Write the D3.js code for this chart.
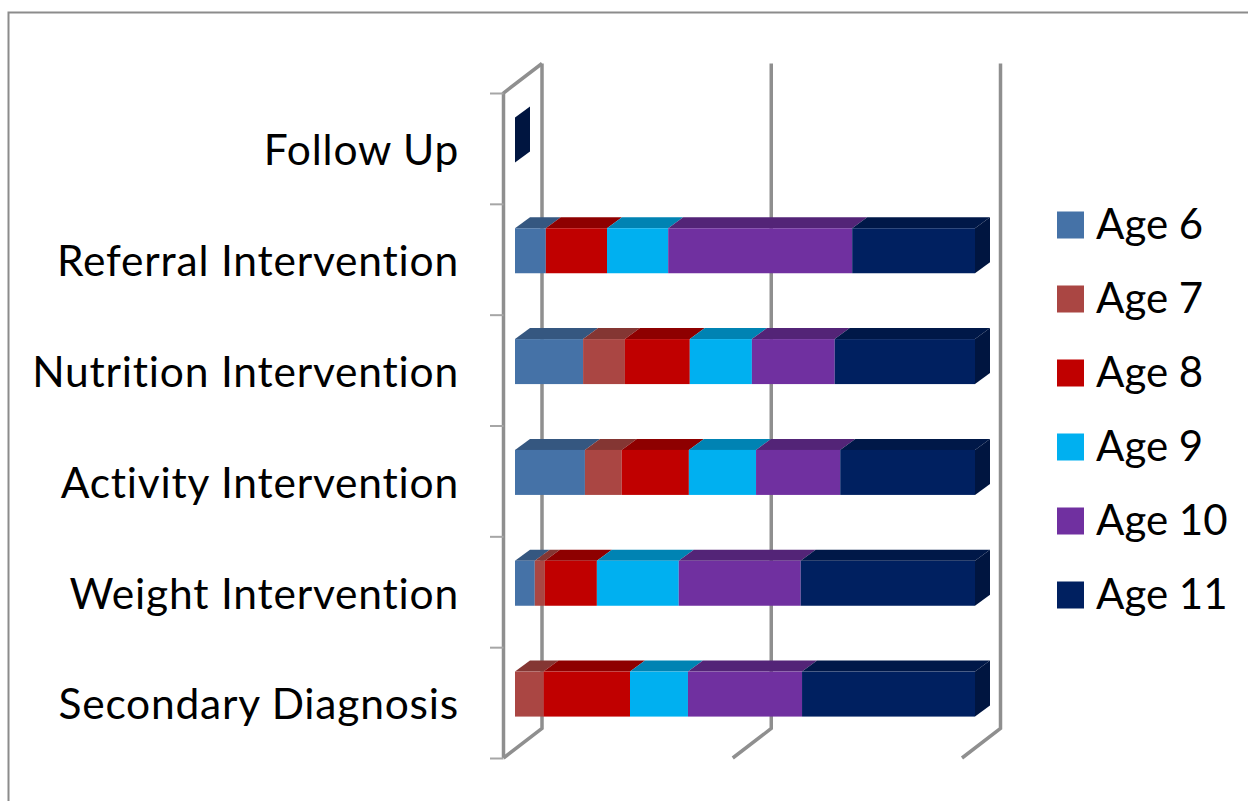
<!DOCTYPE html>
<html>
<head>
<meta charset="utf-8">
<script src="https://cdn.jsdelivr.net/npm/d3@7"></script>
<style>
  html, body { margin: 0; padding: 0; background: #fff; }
  svg { display: block; }
  text { font-family: Lato, "Open Sans", sans-serif; fill: #000; }
</style>
</head>
<body>
<svg id="chart" width="1248" height="801"></svg>
<script>
// Categories from top to bottom of the chart
const categories = ["Follow Up", "Referral Intervention", "Nutrition Intervention",
                    "Activity Intervention", "Weight Intervention", "Secondary Diagnosis"];
const seriesNames = ["Age 6", "Age 7", "Age 8", "Age 9", "Age 10", "Age 11"];

// Share of each category per age group, in percent
const age6  = [0, 6.7, 14.8, 15.2, 4.3, 0];
const age7  = [0, 0, 9.1, 8.0, 2.2, 6.2];
const age8  = [0, 13.3, 14.1, 14.6, 11.3, 18.8];
const age9  = [0, 13.3, 13.5, 14.6, 17.8, 12.6];
const age10 = [0, 40.0, 18.0, 18.3, 26.5, 24.8];
const age11 = [0, 26.7, 30.5, 29.3, 37.9, 37.6];
const seriesValues = [age6, age7, age8, age9, age10, age11];

const valueTicks = [0, 50, 100];

const frontColors = ["#4572A7", "#AA4643", "#C00000", "#00B0F0", "#7030A0", "#002060"];
const topColors   = ["#355780", "#843633", "#8E0000", "#0083B3", "#532477", "#001848"];
const sideColor   = "#001540";

const svg = d3.select("#chart");

// Outer chart border: only the top and left edges fall inside the page
svg.append("path")
  .attr("d", "M8.5,801V12.5H1248")
  .attr("fill", "none").attr("stroke", "#8c8c8c").attr("stroke-width", 2);

// Scales: the floor's front edge, and the bars set back inside the 3D box
const gridX = d3.scaleLinear().domain([0, 100]).range([503.5, 962]);
const barX  = d3.scaleLinear().domain([0, 100]).range([515, 975]);
const catY  = d3.scaleBand().domain(categories).range([93, 758]);

const wallDx = 38.5, wallDy = -29.5;   // depth of the box
const barInsetDy = -8.5;               // vertical shift of a bar's front face
const barDepthDx = 15, barDepthDy = -11;
const barHeight = 45;

const gridColor = "#8f8f8f";
const grid = svg.append("g").attr("fill", "none").attr("stroke", gridColor)
  .attr("stroke-width", 3.5).attr("stroke-linejoin", "miter");

// Back wall gridlines with their floor diagonals
valueTicks.forEach(v => {
  const x0 = gridX(v);
  const yBottom = catY.range()[1];
  grid.append("path").attr("d",
    `M${x0},${yBottom}L${x0 + wallDx},${yBottom + wallDy}V${catY.range()[0] + wallDy}`);
});

// Left front axis edge, its top diagonal and the category tick marks
grid.append("path").attr("stroke-width", 3.5).attr("d",
  `M${gridX(0)},${catY.range()[1]}V${catY.range()[0]}L${gridX(0) + wallDx},${catY.range()[0] + wallDy}`);

const tickPositions = categories.map(c => catY(c)).concat(catY.range()[1]);
svg.append("g").selectAll("line").data(tickPositions).join("line")
  .attr("x1", 490).attr("x2", gridX(0))
  .attr("y1", d => d + 0.5).attr("y2", d => d + 0.5)
  .attr("stroke", "#a6a6a6").attr("stroke-width", 2);

// Category labels
svg.append("g").selectAll("text").data(categories).join("text")
  .attr("x", 459).attr("y", c => catY(c) + catY.bandwidth() / 2 + 6)
  .attr("text-anchor", "end").attr("dominant-baseline", "middle")
  .attr("font-size", 42.5).attr("letter-spacing", 0.8).text(c => c);

// Stack the age groups along each category
const rows = categories.map((c, i) => {
  const row = { category: c };
  seriesNames.forEach((s, j) => { row[s] = seriesValues[j][i]; });
  return row;
});
const stacked = d3.stack().keys(seriesNames)(rows);

const frontTop = c => catY(c) + catY.bandwidth() / 2 + barInsetDy - barHeight / 2;

const bars = svg.append("g");
stacked.forEach((layer, j) => {
  const g = bars.append("g");
  const drawn = layer.filter(d => d[1] > d[0]);
  // Top face
  g.selectAll("path.top").data(drawn).join("path").attr("class", "top")
    .attr("fill", topColors[j])
    .attr("d", d => {
      const x0 = barX(d[0]), x1 = barX(d[1]), y = frontTop(d.data.category);
      return `M${x0},${y}L${x0 + barDepthDx},${y + barDepthDy}H${x1 + barDepthDx}L${x1},${y}Z`;
    });
  // Front face
  g.selectAll("rect").data(drawn).join("rect")
    .attr("x", d => barX(d[0]))
    .attr("y", d => frontTop(d.data.category))
    .attr("width", d => barX(d[1]) - barX(d[0]))
    .attr("height", barHeight)
    .attr("fill", frontColors[j]);
});

// End cap of every stack, including the empty category
const totals = rows.map((r, i) => ({
  category: r.category,
  total: d3.sum(seriesValues, s => s[i])
}));
bars.append("g").selectAll("path").data(totals).join("path")
  .attr("fill", sideColor)
  .attr("d", d => {
    const x = barX(d.total), y = frontTop(d.category);
    return `M${x},${y}L${x + barDepthDx},${y + barDepthDy}V${y + barDepthDy + barHeight}L${x},${y + barHeight}Z`;
  });

// Legend
const legendY = d3.scalePoint().domain(seriesNames).range([225, 595]);
const legend = svg.append("g").selectAll("g").data(seriesNames).join("g")
  .attr("transform", s => `translate(1057,${legendY(s)})`);
legend.append("rect")
  .attr("x", 0).attr("y", -13.5).attr("width", 27).attr("height", 27)
  .attr("fill", (s, i) => frontColors[i]);
legend.append("text")
  .attr("x", 39).attr("y", 3)
  .attr("dominant-baseline", "middle")
  .attr("font-size", 42).text(s => s);
</script>
</body>
</html>
